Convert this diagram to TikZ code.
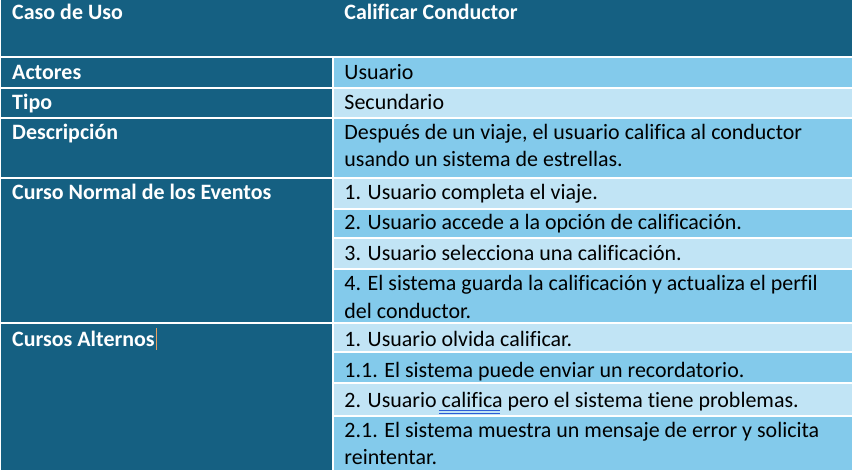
\documentclass[tikz,border=0pt]{standalone}
\usepackage{fontspec}
\setmainfont{Carlito}[Ligatures=CommonOff]
\usetikzlibrary{positioning}
\definecolor{D}{HTML}{156082}
\definecolor{L}{HTML}{83CAEB}
\definecolor{P}{HTML}{C1E4F5}
\definecolor{U}{HTML}{2B5CD6}
\definecolor{K}{HTML}{E8A060}
\tikzset{
  hd/.style={anchor=base west, inner sep=0pt, text=white, font=\fontsize{16.5}{20.5}\selectfont\bfseries},
  tx/.style={anchor=base west, inner sep=0pt, text=black, align=left, font=\fontsize{16.5}{20.5}\selectfont}
}

\begin{document}
\begin{tikzpicture}[x=0.75pt,y=-0.75pt]
  \fill[D] (0,0) rectangle (853,471);
  % right column cells
  \foreach \t/\b/\c in {57/88/L, 88/118/P, 118/178/L, 178/209/P, 209/239/L,
      239/270/P, 270/324/L, 324/353/P, 353/384/L, 384/417/P, 417/471/L}
    \fill[\c] (333,\t) rectangle (853,\b);
  % white rules
  \foreach \y in {57, 88, 118, 178, 324}
    \draw[white, line width=1.5pt] (0,\y) -- (853,\y);
  \foreach \y in {209, 239, 270, 353, 384, 417}
    \draw[white, line width=1.5pt] (333,\y) -- (853,\y);
  \draw[white, line width=1.5pt] (333,57) -- (333,471);
  % left column
  \node[hd] (caso) at (11,20) {Caso de Uso};
  \node[hd] (titulo) at (344,20) {Calificar Conductor};
  \node[hd] (actores) at (11,80) {Actores};
  \node[hd] (tipo) at (11,110) {Tipo};
  \node[hd] (descr) at (11,140) {Descripción};
  \node[hd] (normal) at (11,200) {Curso Normal de los Eventos};
  \node[hd] (alternos) at (11,347) {Cursos Alternos};
  % right column (two-line cells sit on their last line)
  \node[tx] (usuario) at (344,80) {Usuario};
  \node[tx] (secund) at (344,110) {Secundario};
  \node[tx] (texto) at (344,167) {Después de un viaje, el usuario califica al conductor\\usando un sistema de estrellas.};
  \node[tx] (n1) at (344,200) {1. Usuario completa el viaje.};
  \node[tx] (n2) at (344,230) {2. Usuario accede a la opción de calificación.};
  \node[tx] (n3) at (344,261) {3. Usuario selecciona una calificación.};
  \node[tx] (n4) at (344,319) {4. El sistema guarda la calificación y actualiza el perfil\\del conductor.};
  \node[tx] (a1) at (344,347) {1. Usuario olvida calificar.};
  \node[tx] (a11) at (344,378) {1.1. El sistema puede enviar un recordatorio.};
  \node[tx] (a2) at (344,408) {2. Usuario califica pero el sistema tiene problemas.};
  \node[tx] (a21) at (344,466) {2.1. El sistema muestra un mensaje de error y solicita\\reintentar.};
  % marks
  \draw[U, line width=0.6pt] (439,411.5) -- (500,411.5);
  \draw[U, line width=0.6pt] (439,414) -- (500,414);
  \draw[K, line width=0.6pt] (alternos.base east) ++(1,-18) -- ++(0,22);
\end{tikzpicture}
\end{document}
